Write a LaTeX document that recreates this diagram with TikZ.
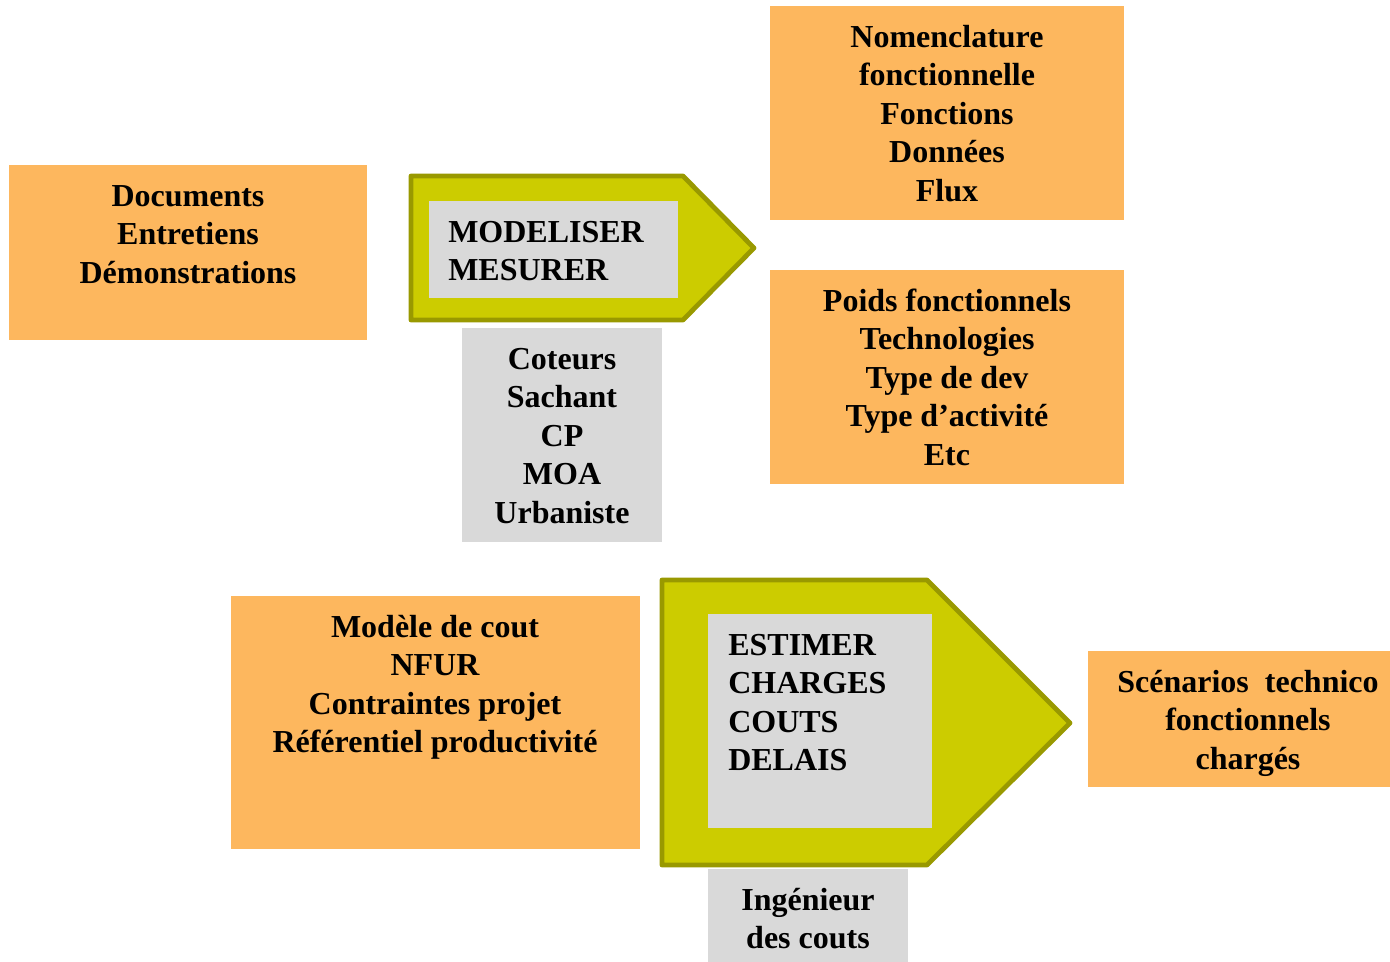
\documentclass[tikz,border=0pt]{standalone}
\usepackage{fontspec}
\setmainfont{Liberation Serif}[BoldFont={Liberation Serif Bold}]
\usetikzlibrary{fit}
\definecolor{boxorange}{HTML}{FDB75E}
\definecolor{boxgrey}{HTML}{D9D9D9}
\definecolor{arrowfill}{HTML}{CCCC00}
\definecolor{arrowline}{HTML}{999900}
\newcommand\firstline{\rule{0pt}{24pt}}
\tikzset{
  obox/.style={draw=none, fill=boxorange, inner sep=0pt},
  gbox/.style={draw=none, fill=boxgrey, inner sep=0pt},
  pentarrow/.style={fill=arrowfill, draw=arrowline, line width=3.6pt, line join=round},
  txt/.style={inner sep=0pt, anchor=north, align=center,
    font=\fontsize{24pt}{28.9pt}\selectfont\bfseries},
  ltxt/.style={txt, anchor=north west, align=left}
}
\begin{document}
\begin{tikzpicture}[x=0.75pt, y=-0.75pt]
\useasboundingbox (0,0) rectangle (1390,962);

% sources and results boxes
\node[obox, fit={(9,165)(367,340)}] (docs) {};
\node[txt] (docst) at (188,174) {\firstline Documents\\Entretiens\\Démonstrations};

\node[obox, fit={(770,6)(1124,220)}] (nomen) {};
\node[txt] (noment) at (947,15) {\firstline Nomenclature\\fonctionnelle\\Fonctions\\Données\\Flux};

\node[obox, fit={(770,270)(1124,484)}] (poids) {};
\node[txt] (poidst) at (947,279) {\firstline Poids fonctionnels\\Technologies\\Type de dev\\Type d’activité\\Etc};

\node[obox, fit={(231,596)(640,849)}] (modele) {};
\node[txt] (modelet) at (435,605) {\firstline Modèle de cout\\NFUR\\Contraintes projet\\Référentiel productivité};

\node[obox, fit={(1088,651)(1390,787)}] (scen) {};
\node[txt] (scent) at (1248,660) {\firstline Scénarios\ \ technico\\fonctionnels\\chargés};

% first step: modelling
\draw[pentarrow] (411,176) coordinate (m1) -- (683,176) -- (754,248) coordinate (mtip)
  -- (683,320) -- (411,320) -- cycle;
\node[gbox, fit={(429,201)(678,298)}] (modin) {};
\node[ltxt] (modt) at (448,210) {\firstline MODELISER\\MESURER};

\node[gbox, fit={(462,328)(662,542)}] (actors1) {};
\node[txt] (actors1t) at (562,337) {\firstline Coteurs\\Sachant\\CP\\MOA\\Urbaniste};

% second step: estimation
\draw[pentarrow] (662,580) coordinate (e1) -- (927,580) -- (1070,723) coordinate (etip)
  -- (927,865) -- (662,865) -- cycle;
\node[gbox, fit={(708,614)(932,828)}] (estin) {};
\node[ltxt] (estt) at (728,623) {\firstline ESTIMER\\CHARGES\\COUTS\\DELAIS};

\node[gbox, fit={(708,869)(908,962)}] (actors2) {};
\node[txt] (actors2t) at (808,878) {\firstline Ingénieur\\des couts};
\end{tikzpicture}
\end{document}
